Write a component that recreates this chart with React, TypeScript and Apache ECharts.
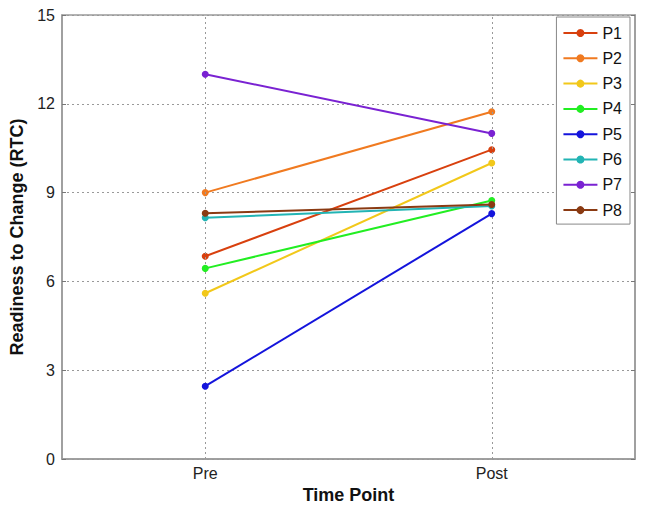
import React, { useEffect, useRef } from "react";
import * as echarts from "echarts";

const categories = ["Pre", "Post"];
const seriesNames = ["P1", "P2", "P3", "P4", "P5", "P6", "P7", "P8"];
const preValues = [6.85, 9.0, 5.6, 6.44, 2.46, 8.15, 13.0, 8.3];
const postValues = [10.45, 11.73, 10.0, 8.73, 8.29, 8.55, 11.0, 8.6];
const colors = ["#d8400e", "#f07a20", "#f2c81a", "#22ee22", "#1414dc", "#22b4b4", "#7a22d2", "#8a3a12"];
const yTicks = [0, 3, 6, 9, 12, 15];

export default function App() {
  const ref = useRef<HTMLDivElement>(null);
  useEffect(() => {
    if (!ref.current) return;
    const chart = echarts.init(ref.current, null, { renderer: "svg" });
    const font = "'Liberation Sans', Arial, sans-serif";
    const series: any[] = seriesNames.map((name, i) => ({
      name,
      type: "line",
      data: [preValues[i], postValues[i]],
      symbol: "circle",
      symbolSize: 7,
      lineStyle: { width: 2, color: colors[i] },
      itemStyle: { color: colors[i] },
      z: 3 + i,
    }));
    series.push({
      type: "line",
      data: [],
      silent: true,
      markLine: {
        symbol: "none",
        silent: true,
        label: { show: false },
        lineStyle: { type: [2, 3], color: "#999", width: 1 },
        data: categories.map((c) => ({ xAxis: c })),
      },
      z: 1,
    });
    chart.setOption({
      animation: false,
      backgroundColor: "#fff",
      grid: {
        left: 62,
        right: 12,
        top: 15,
        bottom: 53,
        show: true,
        borderColor: "#9a9a9a",
        borderWidth: 1.5,
      },
      legend: {
        data: seriesNames,
        orient: "vertical",
        right: 17,
        top: 17,
        backgroundColor: "#fff",
        borderColor: "#888",
        borderWidth: 1,
        padding: [8, 8, 6, 6],
        itemWidth: 34,
        itemHeight: 10,
        itemGap: 9.3,
        textStyle: { fontFamily: font, fontSize: 16, color: "#111" },
      },
      xAxis: {
        type: "category",
        data: categories,
        name: "Time Point",
        nameLocation: "middle",
        nameGap: 26,
        nameTextStyle: { fontFamily: font, fontSize: 18, fontWeight: "bold", color: "#111" },
        axisLine: { lineStyle: { color: "#9a9a9a", width: 1.5 } },
        axisTick: { alignWithLabel: true, inside: true, length: 4, lineStyle: { color: "#555" } },
        axisLabel: { fontFamily: font, fontSize: 16, color: "#222", margin: 6 },
        splitLine: { show: false },
      },
      yAxis: [
        {
          type: "value",
          min: 0,
          max: 15,
          interval: 3,
          name: "Readiness to Change (RTC)",
          nameLocation: "middle",
          nameGap: 32,
          nameTextStyle: { fontFamily: font, fontSize: 18, fontWeight: "bold", color: "#111" },
          axisLine: { show: true, lineStyle: { color: "#9a9a9a", width: 1.5 } },
          axisTick: { show: true, inside: true, length: 4, lineStyle: { color: "#777" } },
          axisLabel: { fontFamily: font, fontSize: 16, color: "#222", margin: 7 },
          splitLine: { show: true, lineStyle: { type: [2, 3], color: "#999", width: 1 } },
        },
        {
          type: "value",
          min: 0,
          max: 15,
          interval: 3,
          position: "right",
          axisLine: { show: true, lineStyle: { color: "#9a9a9a", width: 1.5 } },
          axisTick: { show: true, inside: true, length: 4, lineStyle: { color: "#777" } },
          axisLabel: { show: false },
          splitLine: { show: false },
        },
      ],
      series,
    });
    return () => chart.dispose();
  }, []);
  return <div ref={ref} style={{ width: 647, height: 512, position: "absolute", left: 0, top: 0 }} />;
}
